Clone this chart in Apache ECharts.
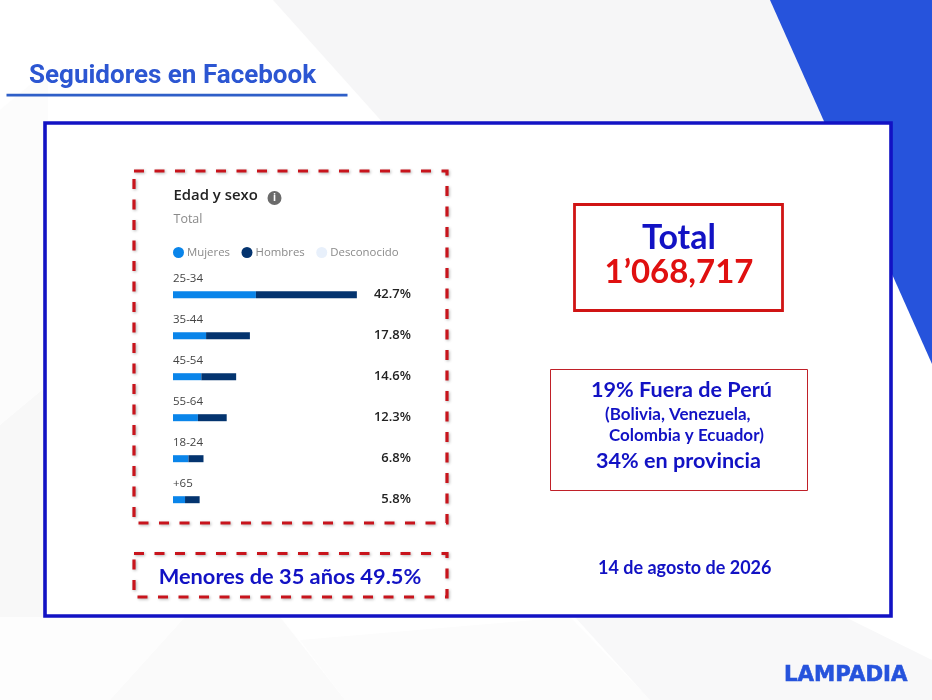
<!DOCTYPE html>
<html>
<head>
<meta charset="utf-8">
<style>html,body{margin:0;padding:0;background:#fff}#c{width:932px;height:700px}</style>
<script src="https://cdn.jsdelivr.net/npm/echarts@6/dist/echarts.min.js"></script>
</head>
<body>
<div id="c"></div>
<script>
const categories = ['25-34','35-44','45-54','55-64','18-24','+65'];
const mujeres = [19.3,7.7,6.6,5.8,3.6,2.8];
const hombres = [23.5,10.2,8.1,6.7,3.5,3.4];
const desconocido = [0,0,0,0,0,0];
const totals = ['42.7%','17.8%','14.6%','12.3%','6.8%','5.8%'];

const BLUE = '#1212c4', RED = '#d01414', DASH = '#c8141c';
const chart = echarts.init(document.getElementById('c'));
const UI = '"Open Sans"';
const poly = (pts, fill, z) => ({type:'polygon', shape:{points:pts}, style:{fill}, z:z||0, silent:true});
const txt = (x,y,text,font,fill,align,extra) => ({type:'text', x, y, z:5, silent:true,
  style:Object.assign({text, font, fill, textAlign:align||'left', textVerticalAlign:'middle'}, extra||{})});
const shadow = {shadowColor:'rgba(0,0,0,0.3)', shadowBlur:3, shadowOffsetX:1, shadowOffsetY:1};

chart.setOption({
  animation:false,
  backgroundColor:'#ffffff',
  legend:{left:173, top:247, padding:0, itemWidth:11, itemHeight:11, itemGap:11.5, icon:'circle', selectedMode:false,
    itemStyle:{borderWidth:0},
    textStyle:{color:'#8a8a8a', fontFamily:UI, fontSize:11.4, padding:[0,0,0,-2]},
    data:['Mujeres','Hombres','Desconocido']},
  grid:{left:173, top:274.2, width:238, height:246, containLabel:false},
  xAxis:{type:'value', min:0, max:55.4, show:false},
  yAxis:[
    {type:'category', z:6, inverse:true, data:categories, axisLine:{show:false}, axisTick:{show:false}, splitLine:{show:false},
      axisLabel:{inside:true, margin:0, align:'left', verticalAlign:'bottom', padding:[0,0,10,0], color:'#444', fontFamily:UI, fontSize:11.5}},
    {type:'category', z:6, inverse:true, position:'right', data:totals, axisLine:{show:false}, axisTick:{show:false}, splitLine:{show:false},
      axisLabel:{inside:true, margin:0, align:'right', verticalAlign:'middle', color:'#222', fontFamily:UI, fontSize:13, fontWeight:600}}
  ],
  series:[
    {name:'Mujeres', type:'bar', stack:'a', data:mujeres, barWidth:7, itemStyle:{color:'#0a85ea'}},
    {name:'Hombres', type:'bar', stack:'a', data:hombres, barWidth:7, itemStyle:{color:'#04346f'}},
    {name:'Desconocido', type:'bar', stack:'a', data:desconocido, barWidth:7, itemStyle:{color:'#e8f0fb'}}
  ],
  graphic:[
    // background
    poly([[273,0],[775,0],[830,125],[385,125]],'#f6f6f7'),
    poly([[0,425],[48,385],[48,625],[0,625]],'#f8f8f8'),
    poly([[0,110],[48,70],[48,385],[0,425]],'#fcfcfc'),
    poly([[185,617],[280,617],[345,700],[110,700]],'#fafafa'),
    poly([[300,640],[570,617],[650,700],[345,700]],'#fcfcfc'),
    poly([[575,617],[845,617],[932,660],[932,700],[650,700]],'#f8f8f9'),
    poly([[0,617],[185,617],[110,700],[0,700]],'#fdfdfd'),
    poly([[770,0],[932,0],[932,364]],'#2653dc'),
    // frame
    {type:'rect', shape:{x:45,y:123,width:846,height:493}, style:{fill:'#ffffff',stroke:BLUE,lineWidth:3.6}, z:1, silent:true},
    // dashed boxes
    {type:'rect', shape:{x:134,y:171,width:313,height:352}, style:Object.assign({fill:'none',stroke:DASH,lineWidth:3.2,lineDash:[10,10.5]},shadow), z:2, silent:true},
    {type:'rect', shape:{x:134,y:553.5,width:313,height:43.5}, style:Object.assign({fill:'none',stroke:DASH,lineWidth:3.2,lineDash:[10,10.5]},shadow), z:2, silent:true},
    // right boxes
    {type:'rect', shape:{x:574.5,y:204.5,width:208,height:106}, style:{fill:'none',stroke:RED,lineWidth:2.8}, z:2, silent:true},
    {type:'rect', shape:{x:550.5,y:369.5,width:257,height:121}, style:{fill:'none',stroke:'#c02028',lineWidth:1}, z:2, silent:true},
    // title
    txt(29,76,'Seguidores en Facebook','bold 26px Roboto','#2c56d2'),
    {type:'rect', shape:{x:6.5,y:93.8,width:341,height:2.8}, style:{fill:'#2f5fc8'}, z:2, silent:true},
    // panel header
    txt(173.5,196,'Edad y sexo','600 14.9px '+UI,'#222'),
    txt(173.5,219,'Total','12.5px '+UI,'#8a8a8a'),
    {type:'circle', shape:{cx:274.5,cy:198,r:7}, style:{fill:'#6b6b6b'}, z:4, silent:true},
    txt(274.5,198,'i','bold 10px '+UI,'#ffffff','center'),
    // captions
    txt(290,577,'Menores de 35 años 49.5%','bold 21.8px Lato',BLUE,'center',{shadowColor:'rgba(0,0,60,0.35)',shadowBlur:2,shadowOffsetX:1,shadowOffsetY:1}),
    txt(679,238,'Total','bold 34px Lato',BLUE,'center'),
    txt(679,272,'1’068,717','bold 33px Lato','#e01010','center'),
    txt(591,390,'19% Fuera de Perú','bold 21.6px Lato',BLUE),
    txt(605,414.5,'(Bolivia, Venezuela,','bold 17px Lato',BLUE),
    txt(609,435.5,'Colombia y Ecuador)','bold 17px Lato',BLUE),
    txt(596,461.5,'34% en provincia','bold 21.6px Lato',BLUE),
    txt(598,568.5,'14 de agosto de 2026','bold 18px Lato',BLUE),
    txt(784,675.5,'LAMPADIA','900 21.3px "DejaVu Sans"','#2653dc','left',{stroke:'#2653dc',lineWidth:0.6})
  ]
});
</script>
</body>
</html>
